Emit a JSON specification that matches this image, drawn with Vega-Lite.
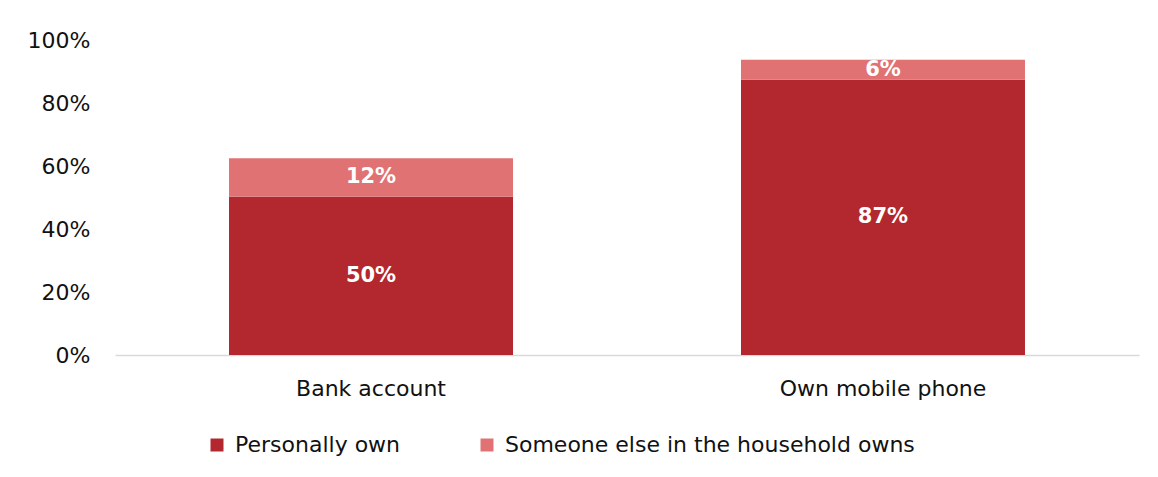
{
  "$schema": "https://vega.github.io/schema/vega-lite/v6.json",
  "width": 1024,
  "height": 315,
  "autosize": {"type": "none"},
  "padding": {"left": 115, "top": 40, "right": 19, "bottom": 122},
  "background": "white",
  "config": {"font": "DejaVu Sans", "view": {"stroke": null}},
  "data": {
    "values": [
      {"item": "Bank account", "series": "Personally own", "value": 0.502},
      {"item": "Bank account", "series": "Someone else in the household owns", "value": 0.123},
      {"item": "Own mobile phone", "series": "Personally own", "value": 0.874},
      {"item": "Own mobile phone", "series": "Someone else in the household owns", "value": 0.063}
    ]
  },
  "transform": [
    {"stack": "value", "groupby": ["item"], "sort": [{"field": "series", "order": "ascending"}], "as": ["v0", "v1"]},
    {"calculate": "(datum.v0 + datum.v1) / 2", "as": "mid"}
  ],
  "encoding": {
    "x": {
      "field": "item",
      "type": "nominal",
      "sort": null,
      "scale": {"paddingInner": 0.4453, "paddingOuter": 0.2227},
      "axis": {
        "title": null,
        "labelAngle": 0,
        "labelFontSize": 22,
        "labelLimit": 0,
        "labelColor": "#111111",
        "labelPadding": 23,
        "ticks": false,
        "domainColor": "#d9d9d9",
        "domainWidth": 1.5
      }
    }
  },
  "layer": [
    {
      "mark": {"type": "bar"},
      "encoding": {
        "y": {
          "field": "v1",
          "type": "quantitative",
          "scale": {"domain": [0, 1]},
          "axis": {
            "title": null,
            "values": [0, 0.2, 0.4, 0.6, 0.8, 1],
            "format": ".0%",
            "grid": false,
            "domain": false,
            "ticks": false,
            "labelFontSize": 22,
            "labelColor": "#111111",
            "labelPadding": 25
          }
        },
        "y2": {"field": "v0"},
        "color": {
          "field": "series",
          "type": "nominal",
          "scale": {
            "domain": ["Personally own", "Someone else in the household owns"],
            "range": ["#B2282E", "#E07274"]
          },
          "legend": {
            "title": null,
            "orient": "none",
            "legendX": 91,
            "legendY": 394,
            "direction": "horizontal",
            "symbolType": "square",
            "symbolSize": 169,
            "symbolStrokeWidth": 0,
            "labelFontSize": 22,
            "labelLimit": 0,
            "labelColor": "#111111",
            "labelOffset": 7,
            "columnPadding": 75
          }
        }
      }
    },
    {
      "mark": {"type": "text", "color": "white", "fontWeight": "bold", "fontSize": 21, "baseline": "middle"},
      "encoding": {
        "y": {"field": "mid", "type": "quantitative"},
        "text": {"field": "value", "type": "quantitative", "format": ".0%"}
      }
    }
  ]
}
